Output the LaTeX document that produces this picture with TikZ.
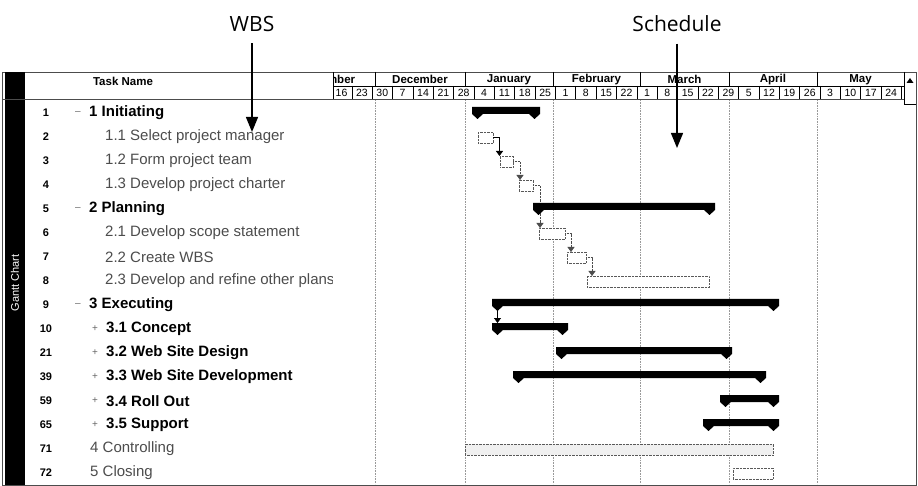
\documentclass[tikz,border=0pt]{standalone}
\usepackage{fontspec}
\setmainfont{Liberation Sans}
\newfontfamily\calloutfont{Open Sans}
\usetikzlibrary{arrows.meta}

\begin{document}
\begin{tikzpicture}[x=1pt, y=-1pt,
    num/.style={font=\bfseries\fontsize{11}{12}\selectfont},
    sumname/.style={anchor=west, inner sep=0pt, font=\bfseries\fontsize{15}{16}\selectfont},
    subname/.style={anchor=west, inner sep=0pt, text=black!70, font=\fontsize{15}{16}\selectfont},
    outline/.style={inner sep=0pt, text=black!60, font=\fontsize{10}{12}\selectfont},
    month/.style={font=\bfseries\fontsize{11.5}{12}\selectfont},
    week/.style={font=\fontsize{10.5}{12}\selectfont},
    taskbox/.style={draw=black!65, densely dotted, fill=white, inner sep=0pt, minimum height=11pt, anchor=north west},
    link/.style={black!70, densely dotted, -{Triangle[width=7pt,length=5pt]}},
    grid/.style={black!40, densely dotted, line width=0.6pt},
    callout/.style={line width=1.3pt, -{Triangle[width=12pt,length=15pt]}}]
    \useasboundingbox (0,0) rectangle (918,486);

    \foreach \g in {375,465,553,640,729,817}
        \draw[grid] (\g,100) -- (\g,484);

    \draw[black!70] (2.5,72) rectangle (916,485);
    \fill (5,72) rectangle (25,485);
    \node[rotate=90, text=white, font=\fontsize{11}{12}\selectfont] (gantt) at (15,283) {Gantt Chart};

    % header
    \node[font=\bfseries\fontsize{11.5}{12}\selectfont] (taskname) at (123,81) {Task Name};
    \begin{scope}
        \clip (333,72) rectangle (904,100);
        \foreach \m/\c in {November/327,December/420,January/509,February/596.5,March/684.5,April/773,May/860.5}
            \node[month] (m\m) at (\c,79.5) {\m};
        \foreach \d [count=\k from 0] in {16,23,30,7,14,21,28,4,11,18,25,1,8,15,22,1,8,15,22,29,5,12,19,26,3,10,17,24}
            \node[week] (wk\k) at ({331.4+20.356*(\k+0.5)},93) {\d};
        \foreach \k in {1,...,28}
            \draw ({331.4+20.356*\k},86) -- ++(0,13.5);
    \end{scope}
    \foreach \g in {375,465,553,640,729,817}
        \draw (\g,72) -- (\g,86);
    \draw (333,72) -- (333,99.5);
    \draw (333,86) -- (904,86);
    \draw[black!70] (2.5,99.5) -- (904,99.5);
    \draw (904,72) -- (904,104) -- (916,104);
    \fill (906.5,83) -- (913.5,83) -- (910,78) -- cycle;

    % table
    \foreach \n [count=\r from 0] in {1,2,3,4,5,6,7,8,9,10,21,39,59,65,71,72}
        \node[num] (n\n) at (46,{113+24*\r}) {\n};
    \foreach \r in {0,4,8}
        \node[outline] (minus\r) at (78,{113+24*\r}) {\textendash};
    \foreach \r in {9,...,13}
        \node[outline] (plus\r) at (95,{113+24*\r}) {+};
    \foreach \t/\r in {1 Initiating/0,2 Planning/4,3 Executing/8}
        \node[sumname] (name\r) at (89,{113+24*\r}) {\t};
    \foreach \t/\r in {1.1 Select project manager/1,1.2 Form project team/2,1.3 Develop project charter/3,2.1 Develop scope statement/5,2.2 Create WBS/6}
        \node[subname] (name\r) at (105,{113+24*\r}) {\t};
    \begin{scope}
        \clip (0,0) rectangle (332,486);
        \node[subname] (name7) at (105,281) {2.3 Develop and refine other plans};
    \end{scope}
    \foreach \t/\r in {3.1 Concept/9,3.2 Web Site Design/10,3.3 Web Site Development/11,3.4 Roll Out/12,3.5 Support/13}
        \node[sumname] (name\r) at (106,{113+24*\r}) {\t};
    \foreach \t/\r in {4 Controlling/14,5 Closing/15}
        \node[subname] (name\r) at (90,{113+24*\r}) {\t};

    % tasks
    \node[taskbox, minimum width=15pt] (t11) at (478,132) {};
    \node[taskbox, minimum width=13pt] (t12) at (500,156) {};
    \node[taskbox, minimum width=14pt] (t13) at (519,180) {};
    \node[taskbox, minimum width=26pt] (t21) at (539,228) {};
    \node[taskbox, minimum width=19pt] (t22) at (567,252) {};
    \node[taskbox, minimum width=122pt] (t23) at (587,276) {};
    \node[taskbox, minimum width=308pt, fill=black!6] (t4) at (465,444) {};
    \node[taskbox, minimum width=40pt] (t5) at (733,468) {};

    \draw[link, black, solid, line width=1pt] (t11.east) -| ([xshift=-0.5pt]t12.north west);
    \draw[link] (t12.east) -| ([xshift=1pt]t13.north west);
    \draw[link] (t13.east) -| ([xshift=1pt]t21.north west);
    \draw[link] (t21.east) -| ([xshift=4pt]t22.north west);
    \draw[link] (t22.east) -| ([xshift=5pt]t23.north west);

    % summary bars
    \foreach \a/\b/\t in {472/540/107,533/715/203,492/779/299,492/568/323,556/732/347,513/766/371,720/779/395,703/779/419}
        \fill (\a,\t) -- (\b,\t) -- (\b,{\t+7}) -- ({\b-5.5},{\t+12}) -- ({\b-11},{\t+7})
            -- ({\a+11},{\t+7}) -- ({\a+5.5},{\t+12}) -- (\a,{\t+7}) -- cycle;
    \coordinate (exec) at (497.5,311);
    \coordinate (concept) at (497.5,323);
    \draw[link, black, solid] (exec) -- (concept);

    % callouts
    \node[font=\calloutfont\fontsize{21}{24}\selectfont] (wbs) at (252,24) {WBS};
    \node[font=\calloutfont\fontsize{21}{24}\selectfont] (sched) at (677,24) {Schedule};
    \coordinate (wbstip) at (252,132);
    \coordinate (schedtip) at (677,148);
    \draw[callout] ([yshift=-8pt]wbs.south) -- (wbstip);
    \draw[callout] ([yshift=-8pt]sched.south) -- (schedtip);
\end{tikzpicture}
\end{document}
